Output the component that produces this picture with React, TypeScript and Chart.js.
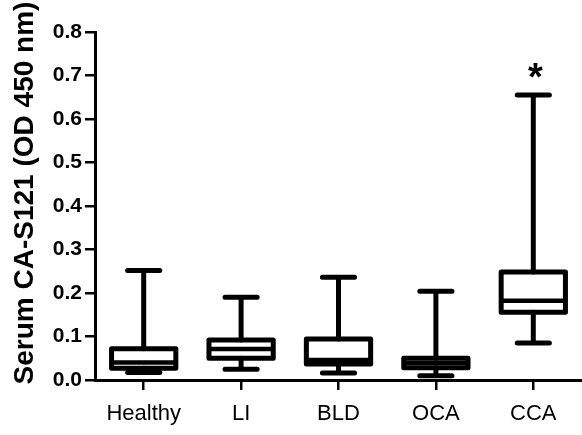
import { useEffect, useRef } from 'react';
import { Chart, registerables } from 'chart.js';

Chart.register(...registerables);

const categories = ['Healthy', 'LI', 'BLD', 'OCA', 'CCA'];
const minValues = [0.017, 0.025, 0.016, 0.010, 0.085];
const q1Values = [0.027, 0.050, 0.037, 0.028, 0.156];
const medianValues = [0.040, 0.071, 0.046, 0.039, 0.182];
const q3Values = [0.072, 0.092, 0.094, 0.050, 0.248];
const maxValues = [0.252, 0.190, 0.236, 0.204, 0.655];
const significance = ['', '', '', '', '*'];
const yTicks = [0, 0.1, 0.2, 0.3, 0.4, 0.5, 0.6, 0.7, 0.8];
const yTitle = 'Serum CA-S121 (OD 450 nm)';

const FONT = "'Liberation Sans', Arial, sans-serif";
const STROKE = 5;

const boxPlugin = {
  id: 'boxWhiskers',
  afterDraw(chart: any) {
    const ctx = chart.ctx;
    const y = chart.scales.y;
    const meta = chart.getDatasetMeta(0);
    ctx.save();
    ctx.strokeStyle = '#000';
    ctx.lineWidth = STROKE;
    meta.data.forEach((bar: any, i: number) => {
      const { x, width } = bar.getProps(['x', 'width'], true);
      const top = y.getPixelForValue(q3Values[i]);
      const bot = y.getPixelForValue(q1Values[i]);
      const med = y.getPixelForValue(medianValues[i]);
      const yMax = y.getPixelForValue(maxValues[i]);
      const yMin = y.getPixelForValue(minValues[i]);
      const capHalf = width * 0.25;
      // whiskers
      ctx.lineCap = 'round';
      ctx.beginPath();
      ctx.moveTo(x, top);
      ctx.lineTo(x, yMax);
      ctx.moveTo(x, bot);
      ctx.lineTo(x, yMin);
      ctx.moveTo(x - capHalf, yMax);
      ctx.lineTo(x + capHalf, yMax);
      ctx.moveTo(x - capHalf, yMin);
      ctx.lineTo(x + capHalf, yMin);
      ctx.stroke();
      // box
      ctx.lineJoin = 'round';
      ctx.beginPath();
      ctx.rect(x - width / 2, top, width, bot - top);
      ctx.stroke();
      // median
      ctx.lineCap = 'butt';
      ctx.lineWidth = STROKE - 0.5;
      ctx.beginPath();
      ctx.moveTo(x - width / 2, med);
      ctx.lineTo(x + width / 2, med);
      ctx.stroke();
      ctx.lineWidth = STROKE;
      // significance mark
      if (significance[i]) {
        ctx.fillStyle = '#000';
        ctx.font = `bold 38px ${FONT}`;
        ctx.textAlign = 'center';
        ctx.textBaseline = 'alphabetic';
        ctx.fillText(significance[i], x + 2, yMax - 5);
      }
    });
    // y axis title
    ctx.fillStyle = '#000';
    ctx.font = `bold 28px ${FONT}`;
    ctx.textAlign = 'center';
    ctx.textBaseline = 'alphabetic';
    ctx.translate(33, 193);
    ctx.rotate(-Math.PI / 2);
    ctx.fillText(yTitle, 0, 0);
    ctx.restore();
  },
};

export default function App() {
  const ref = useRef<HTMLCanvasElement | null>(null);
  useEffect(() => {
    if (!ref.current) return;
    const chart = new Chart(ref.current, {
      type: 'bar',
      data: {
        labels: categories,
        datasets: [
          {
            data: categories.map((_, i) => [q1Values[i], q3Values[i]]) as any,
            backgroundColor: '#fff',
            borderWidth: 0,
            barPercentage: 0.66,
            categoryPercentage: 1,
          },
        ],
      },
      options: {
        responsive: false,
        animation: false,
        layout: { padding: { top: 32, right: 0, bottom: 0, left: 0 } },
        plugins: { legend: { display: false }, tooltip: { enabled: false } },
        scales: {
          x: {
            offset: true,
            grid: {
              offset: false,
              drawOnChartArea: false,
              drawTicks: true,
              tickLength: 10,
              color: '#000',
              lineWidth: 2.5,
            },
            border: { display: true, color: '#000', width: 3 },
            ticks: {
              color: '#000',
              padding: 11,
              font: { family: FONT, size: 22 },
            },
            afterFit(scale: any) {
              scale.height = 55;
            },
          },
          y: {
            min: 0,
            max: 0.8,
            afterBuildTicks(scale: any) {
              scale.ticks = yTicks.map((v) => ({ value: v }));
            },
            grid: {
              drawOnChartArea: false,
              drawTicks: true,
              tickLength: 10,
              color: '#000',
              lineWidth: 2.5,
            },
            border: { display: true, color: '#000', width: 3 },
            ticks: {
              color: '#000',
              padding: 3,
              font: { family: FONT, size: 21, weight: 'bold' },
              callback: (v: any) => Number(v).toFixed(1),
            },
            afterFit(scale: any) {
              scale.width = 95;
            },
          },
        },
      },
      plugins: [boxPlugin],
    });
    return () => chart.destroy();
  }, []);
  return (
    <div style={{ position: 'fixed', left: 0, top: 0, width: 582, height: 435, background: '#fff' }}>
      <canvas ref={ref} width={582} height={435} />
    </div>
  );
}
